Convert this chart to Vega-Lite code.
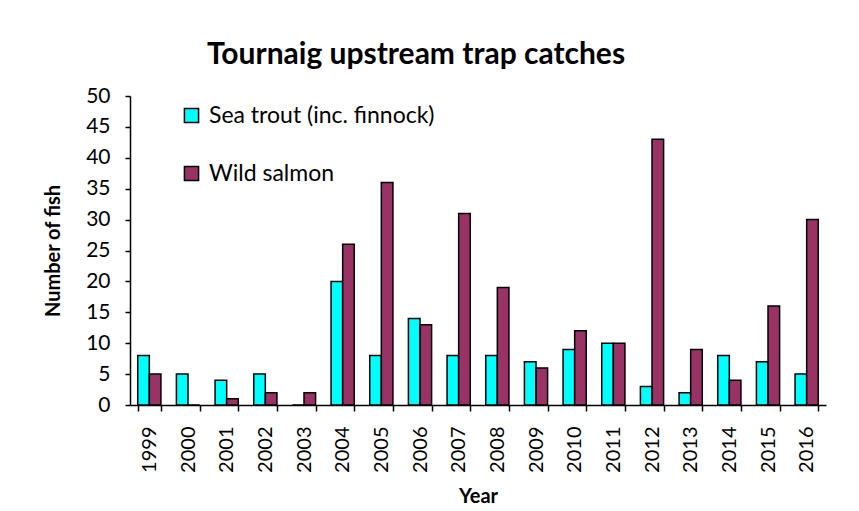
{
  "$schema": "https://vega.github.io/schema/vega-lite/v6.json",
  "autosize": {"type": "none"},
  "width": 696,
  "height": 309,
  "padding": {"left": 130, "top": 96, "right": 33, "bottom": 106},
  "background": "white",
  "title": {
    "text": "Tournaig upstream trap catches",
    "font": "Lato",
    "fontSize": 30,
    "fontWeight": "bold",
    "color": "black",
    "anchor": "middle",
    "dx": -62,
    "offset": 15
  },
  "data": {
    "values": [
      {"Year": "1999", "Series": "Sea trout (inc. finnock)", "Fish": 8},
      {"Year": "1999", "Series": "Wild salmon", "Fish": 5},
      {"Year": "2000", "Series": "Sea trout (inc. finnock)", "Fish": 5},
      {"Year": "2000", "Series": "Wild salmon", "Fish": 0},
      {"Year": "2001", "Series": "Sea trout (inc. finnock)", "Fish": 4},
      {"Year": "2001", "Series": "Wild salmon", "Fish": 1},
      {"Year": "2002", "Series": "Sea trout (inc. finnock)", "Fish": 5},
      {"Year": "2002", "Series": "Wild salmon", "Fish": 2},
      {"Year": "2003", "Series": "Sea trout (inc. finnock)", "Fish": 0},
      {"Year": "2003", "Series": "Wild salmon", "Fish": 2},
      {"Year": "2004", "Series": "Sea trout (inc. finnock)", "Fish": 20},
      {"Year": "2004", "Series": "Wild salmon", "Fish": 26},
      {"Year": "2005", "Series": "Sea trout (inc. finnock)", "Fish": 8},
      {"Year": "2005", "Series": "Wild salmon", "Fish": 36},
      {"Year": "2006", "Series": "Sea trout (inc. finnock)", "Fish": 14},
      {"Year": "2006", "Series": "Wild salmon", "Fish": 13},
      {"Year": "2007", "Series": "Sea trout (inc. finnock)", "Fish": 8},
      {"Year": "2007", "Series": "Wild salmon", "Fish": 31},
      {"Year": "2008", "Series": "Sea trout (inc. finnock)", "Fish": 8},
      {"Year": "2008", "Series": "Wild salmon", "Fish": 19},
      {"Year": "2009", "Series": "Sea trout (inc. finnock)", "Fish": 7},
      {"Year": "2009", "Series": "Wild salmon", "Fish": 6},
      {"Year": "2010", "Series": "Sea trout (inc. finnock)", "Fish": 9},
      {"Year": "2010", "Series": "Wild salmon", "Fish": 12},
      {"Year": "2011", "Series": "Sea trout (inc. finnock)", "Fish": 10},
      {"Year": "2011", "Series": "Wild salmon", "Fish": 10},
      {"Year": "2012", "Series": "Sea trout (inc. finnock)", "Fish": 3},
      {"Year": "2012", "Series": "Wild salmon", "Fish": 43},
      {"Year": "2013", "Series": "Sea trout (inc. finnock)", "Fish": 2},
      {"Year": "2013", "Series": "Wild salmon", "Fish": 9},
      {"Year": "2014", "Series": "Sea trout (inc. finnock)", "Fish": 8},
      {"Year": "2014", "Series": "Wild salmon", "Fish": 4},
      {"Year": "2015", "Series": "Sea trout (inc. finnock)", "Fish": 7},
      {"Year": "2015", "Series": "Wild salmon", "Fish": 16},
      {"Year": "2016", "Series": "Sea trout (inc. finnock)", "Fish": 5},
      {"Year": "2016", "Series": "Wild salmon", "Fish": 30}
    ]
  },
  "mark": {"type": "bar", "stroke": "black", "strokeWidth": 1.5},
  "encoding": {
    "x": {
      "field": "Year",
      "type": "nominal",
      "scale": {"paddingInner": 0.4, "paddingOuter": 0.2},
      "axis": {
        "title": "Year",
        "titleFont": "Lato",
        "titleFontSize": 20,
        "titleFontWeight": "bold",
        "titleColor": "black",
        "titlePadding": 14,
        "labelFont": "Lato",
        "labelFontSize": 20,
        "labelColor": "black",
        "labelAngle": -90,
        "labelAlign": "right",
        "labelBaseline": "middle",
        "labelPadding": 15,
        "tickBand": "extent",
        "tickSize": 6,
        "tickColor": "black",
        "tickWidth": 1.5,
        "domainColor": "black",
        "domainWidth": 1.5
      }
    },
    "xOffset": {"field": "Series", "type": "nominal", "sort": ["Sea trout (inc. finnock)", "Wild salmon"]},
    "y": {
      "field": "Fish",
      "type": "quantitative",
      "scale": {"domain": [0, 50]},
      "axis": {
        "title": "Number of fish",
        "titleFont": "Lato",
        "titleFontSize": 20,
        "titleFontWeight": "bold",
        "titleColor": "black",
        "titlePadding": 22,
        "values": [0, 5, 10, 15, 20, 25, 30, 35, 40, 45, 50],
        "labelFont": "Lato",
        "labelFontSize": 21,
        "labelColor": "black",
        "labelPadding": 15,
        "tickSize": 5,
        "tickColor": "black",
        "tickWidth": 1.5,
        "domainColor": "black",
        "domainWidth": 1.5,
        "grid": false
      }
    },
    "color": {
      "field": "Series",
      "type": "nominal",
      "sort": ["Sea trout (inc. finnock)", "Wild salmon"],
      "scale": {"domain": ["Sea trout (inc. finnock)", "Wild salmon"], "range": ["#00FFFF", "#993366"]},
      "legend": {
        "title": null,
        "orient": "none",
        "legendX": 50,
        "legendY": 8,
        "symbolType": "square",
        "symbolSize": 200,
        "symbolStrokeColor": "black",
        "symbolStrokeWidth": 1.5,
        "labelFont": "Lato",
        "labelFontSize": 23,
        "labelColor": "black",
        "labelOffset": 6,
        "labelLimit": 0,
        "rowPadding": 34
      }
    }
  },
  "config": {
    "view": {"stroke": null}
  }
}
